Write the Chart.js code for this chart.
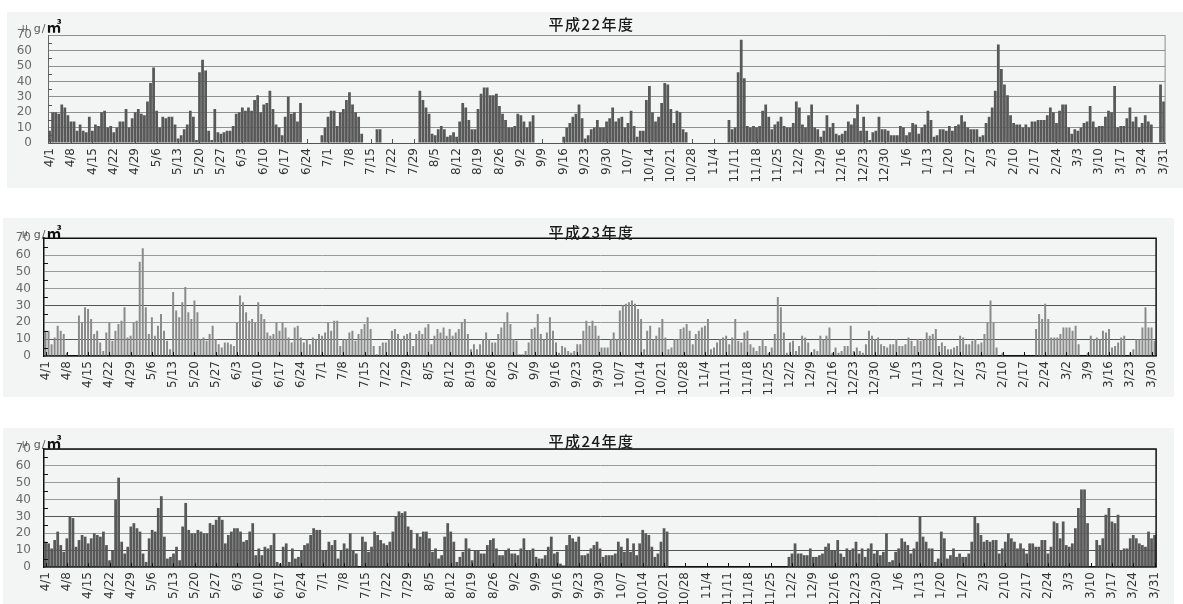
<!DOCTYPE html>
<html>
<head>
<meta charset="utf-8">
<script src="https://cdn.jsdelivr.net/npm/chart.js@4.4.1/dist/chart.umd.min.js"></script>
<style>
  body { margin: 0; background: #fff; width: 1183px; height: 604px; overflow: hidden; position: relative; font-family: "Noto Sans CJK JP", sans-serif; }
  .box { position: absolute; background: #f3f4f4; }
  .box canvas { position: absolute; left: 0; top: 0; }
  .title { position: absolute; text-align: center; font-size: 15px; font-weight: 500; letter-spacing: 1.5px; color: #1a1a1a; line-height: 18px; }
  .unit { position: absolute; font-family: "DejaVu Sans", sans-serif; font-size: 11px; color: #555; line-height: 1; letter-spacing: 1px; white-space: nowrap; }
  .unit i { font-style: normal; font-size: 9px; letter-spacing: 6px; position: relative; top: -2px; }
  .unit b { font-family: "Noto Sans CJK JP", sans-serif; font-size: 15px; font-weight: bold; color: #111; letter-spacing: 0; }
</style>
</head>
<body>
<div class="box" style="left:7px;top:12px;width:1176px;height:176px">
  <canvas id="c1" width="1176" height="176"></canvas>
  <div class="title" style="top:3px;left:-7px;width:1183px">平成22年度</div>
  <div class="unit" style="left:15px;top:6px"><i>μ</i>g/<b>㎥</b></div>
</div>
<div class="box" style="left:3px;top:218px;width:1171px;height:179px">
  <canvas id="c2" width="1171" height="179"></canvas>
  <div class="title" style="top:5px;left:-3px;width:1183px">平成23年度</div>
  <div class="unit" style="left:19px;top:6px"><i>μ</i>g/<b>㎥</b></div>
</div>
<div class="box" style="left:3px;top:428px;width:1171px;height:176px">
  <canvas id="c3" width="1171" height="176"></canvas>
  <div class="title" style="top:4px;left:-3px;width:1183px">平成24年度</div>
  <div class="unit" style="left:19px;top:6px"><i>μ</i>g/<b>㎥</b></div>
</div>
<script>
// 日平均値 (μg/㎥) 4/1〜3/31
const h22Values = [
  8,20,20,19,25,23,18, 14,14,8,12,8,7,17, 8,12,11,20,21,10,11, 7,10,14,14,22,10,16,
  20,22,19,18,27,39,49,
  21,10,17,16,17,17,12,3,5,9,12,21,17,2,46,54,
  47,8,2,22,7,6,7,8,8,11,19,20,23,21,23,21,28,31,20,25,26,34,
  22,12,10,5,17,30,19,20,14,26,0,0,
  0,0,0,0,
  5,10,17,21,21,11,20,22,28,33,25,20,17,6,0,0,
  0,0,9,9,0,0,0,
  0,0,0,0,0,0,0,0,0,
  34,28,23,19,6,5,9,11,9,4,5,7,4,14,26,23,15,9,9,22,32,36,36,31,31,32,24,19,15,10,10,11,19,18,14,10,14,18,
  0,0,0,0,0,0,0,0,0,
  4,10,13,17,19,25,16,3,5,9,10,15,10,10,14,16,23,14,16,17,10,13,21,11,4,8,8,28,37,20,14,17,26,39,38,22,13,21,20,9,7,
  0,0,0,0,0,0,0,0,0,0,0,0,0,
  15,9,10,46,67,42,11,10,11,10,11,21,25,17,9,12,
  14,17,11,10,10,13,
  27,23,12,10,18,25,10,9,4,8,18,10,13,6,5,6,8,14,12,16,25,8,17,8,2,7,8,17,9,9,8,
  5,5,5,11,10,5,7,13,12,6,10,12,21,15,4,5,9,9,8,11,8,11,12,18,14,10,9,9,9,4,5,
  13,17,23,34,64,48,38,31,18,13,12,12,10,12,10,14,14,15,15,15,18,23,20,13,21,25,25,10,
  6,9,8,10,13,14,24,14,10,11,11,17,21,20,37,10,11,11,16,23,14,17,10,13,18,14,12,0,0,38,27
];
const h23Values = [
  15,15,7,11,18,15,13,2,0,0,0,
  24,20,29,28,22,13,15,8,3,14, 20,9,15,19,21,29,11,12,20,21,
  56,64,29,13,23,12,18,25,15,9, 4,38,27,23,32,41,26,22,33,26,
  10,11,9,13,18,10,7,5,8,8, 7,6,20,36,32,26,21,22,20,32,
  25,22,14,12,13,20,15,20,17,11, 8,17,18,11,8,10,7,11,10,13,
  12,14,20,15,21,21,6,10,10,14, 15,9,13,16,19,23,16,6,1,6, 8,8,
  10,15,16,13,10,12,13,14,6,13, 15,13,17,19,7,12,16,14,17,12,
  16,12,14,16,20,22,13,4,7,4, 7,10,14,10,8,8,13,17,20,26,
  19,10,9,1,1,3,8,16,17,25, 13,10,14,23,15,8,2,6,5,3,
  2,3,7,7,15,21,18,21,18,12, 5,5,5,10,14,10,27,30,31,32,
  33,31,28,22,4,15,18,10,12,17, 22,11,4,5,10,10,16,17,19,15,
  7,13,15,17,18,22,4,5,8,10, 11,12,7,11,22,9,8,14,15,7,
  5,3,6,10,6,2,5,13,35,29,
  14,2,8,9,3,6,12,11,8,2, 4,3,12,10,12,17,2,5,2,3,
  6,6,18,3,5,3,2,7,15,12, 10,11,7,6,5,7,7,10,6,6,
  7,11,9,6,10,9,10,14,12,13, 16,6,8,6,4,4,5,6,12,11,
  7,7,9,10,7,8,13,20,33,20, 5,0,2,0,0,0,0,0,0,0,
  0,0,0,16,25,22,31,22,11,11, 11,13,17,17,17,15,18,7,0,0,
  2,12,10,11,10,15,14,16,5,6, 8,11,12,0,2,4,10,10,17,29,
  17,17,9
];
const h24Values = [
  15,14,11,16,21,13,9,17,30,29, 12,16,19,18,14,17,20,19,18,21,
  13,4,10,40,53,15,8,12,24,26, 23,21,8,3,17,22,21,35,42,18,
  5,6,8,12,4,24,38,22,20,20, 22,21,20,20,26,25,28,30,28,14,
  19,21,23,23,21,15,16,21,26,7, 11,7,12,11,13,20,3,2,12,14,
  3,11,5,6,10,13,14,19,23,22, 22,10,10,15,13,16,5,10,14,11,
  20,10,8,0,18,15,9,12,21,19, 16,14,13,15,21,30,
  33,32,33,24,22,11,20,18,21,21, 17,9,11,5,7,18,26,21,15,3,
  6,9,17,11,4,10,10,8,8,13, 16,17,11,7,7,10,11,8,8,7,
  11,17,10,10,11,6,5,5,7,12, 18,8,9,2,1,13,19,17,15,18,
  7,7,8,11,13,15,11,6,7,7, 7,8,15,12,9,17,9,14,7,14,
  22,20,19,12,6,8,15,23,21,
  0,0,0,0,0,0,0,0,0,0, 0,0,0,0,0,0,0,0,0,0, 0,0,0,0,0,0,0,0,0,0, 0,0,0,0,0,0,0,0,0,
  6,8,14,8,8,7,7,11,6,6, 7,8,12,14,10,10,16,8,6,11,
  10,11,15,8,11,6,11,14,8,10, 7,9,20,3,4,9,11,17,15,13,
  8,11,15,30,18,15,11,11,3,5, 21,17,5,7,11,6,8,6,6,8,
  15,30,26,19,15,16,15,16,16,8, 11,15,20,17,15,11,14,11,8,14,
  14,12,12,16,16,8,12,27,26,17, 27,13,12,14,23,35,46,46,26,0,
  0,16,13,17,31,35,27,26,31,10, 11,11,17,19,17,14,13,12,21,17,
  19
];
const yTicks = [0, 10, 20, 30, 40, 50, 60, 70];
const labelEvery = 7;

// 年度の日付ラベル (4/1 から)
function fiscalDays(startYear) {
  const out = [];
  const d = new Date(startYear, 3, 1);
  while (d < new Date(startYear + 1, 3, 1)) {
    out.push((d.getMonth() + 1) + '/' + d.getDate());
    d.setDate(d.getDate() + 1);
  }
  return out;
}
const h22Days = fiscalDays(2010);
const h23Days = fiscalDays(2011);
const h24Days = fiscalDays(2012);

const innerTicks = {
  id: 'innerTicks',
  afterDatasetsDraw(chart, args, o) {
    const { ctx, chartArea: a, scales: { x, y } } = chart;
    ctx.save();
    ctx.strokeStyle = o.tickColor;
    ctx.lineWidth = 1;
    ctx.beginPath();
    chart.data.labels.forEach((l, i) => {
      if (i % labelEvery) return;
      const px = Math.round(x.getPixelForValue(i)) + 0.5;
      ctx.moveTo(px, a.bottom);
      ctx.lineTo(px, a.bottom - 4);
    });
    for (let v = 5; v < 70; v += 10) {
      const py = Math.round(y.getPixelForValue(v)) + 0.5;
      ctx.moveTo(a.left, py);
      ctx.lineTo(a.left + 4, py);
    }
    ctx.stroke();
    ctx.strokeStyle = o.frameColor;
    ctx.lineWidth = o.frameWidth;
    ctx.beginPath();
    ctx.moveTo(a.right, a.bottom);
    ctx.lineTo(a.right, a.top);
    if (o.frameTop) ctx.lineTo(a.left, a.top);
    ctx.stroke();
    ctx.restore();
  }
};

function drawPanel(id, days, values, cfg) {
  new Chart(document.getElementById(id), {
    type: 'bar',
    data: {
      labels: days,
      datasets: [{
        data: values,
        backgroundColor: cfg.bar,
        borderWidth: 0,
        barPercentage: cfg.barPct,
        categoryPercentage: 1
      }]
    },
    options: {
      responsive: false,
      animation: false,
      events: [],
      layout: { padding: { left: 0, right: cfg.padRight, top: cfg.padTop, bottom: 0 } },
      plugins: {
        legend: { display: false },
        tooltip: { enabled: false },
        innerTicks: { tickColor: cfg.axis, frameColor: cfg.frame, frameWidth: cfg.frameWidth, frameTop: cfg.frameTop }
      },
      scales: {
        x: {
          grid: { display: false, drawTicks: false },
          border: { color: cfg.axis, width: cfg.axisWidth },
          ticks: {
            autoSkip: false,
            maxRotation: 90,
            minRotation: 90,
            padding: 5,
            color: '#333',
            font: { family: 'DejaVu Sans', size: 12 },
            callback: (v, i) => (i % labelEvery === 0 ? days[i] : '')
          },
          afterFit: s => { s.height = cfg.xH; }
        },
        y: {
          min: 0,
          max: 70,
          afterBuildTicks: s => { s.ticks = yTicks.map(v => ({ value: v })); },
          grid: { drawTicks: false, color: cfg.grid, lineWidth: 1 },
          border: { color: cfg.yAxis, width: cfg.axisWidth },
          ticks: {
            autoSkip: false,
            padding: cfg.yPad,
            color: '#6a6a6a',
            font: { family: 'DejaVu Sans', size: 12 }
          },
          afterFit: s => { s.width = cfg.yW; }
        }
      }
    },
    plugins: [innerTicks]
  });
}

drawPanel('c1', h22Days, h22Values, {
  bar: '#585858', barPct: 0.9, padRight: 13, padTop: 21, xH: 45, yW: 41, yPad: 16,
  grid: '#8f8f8f', axis: '#555', yAxis: '#666', axisWidth: 1,
  frame: '#8f8f8f', frameWidth: 1, frameTop: false
});
drawPanel('c2', h23Days, h23Values, {
  bar: '#8a8a8a', barPct: 0.65, padRight: 8, padTop: 20, xH: 41, yW: 41, yPad: 13,
  grid: c => (c.tick && (c.tick.value === 10 || c.tick.value === 30) ? '#555' : '#9a9a9a'),
  axis: '#111', yAxis: '#111', axisWidth: 1.5,
  frame: '#111', frameWidth: 1.5, frameTop: true
});
drawPanel('c3', h24Days, h24Values, {
  bar: '#585858', barPct: 0.9, padRight: 8, padTop: 21, xH: 37, yW: 41, yPad: 13,
  grid: c => (c.tick && (c.tick.value === 10 || c.tick.value === 30) ? '#555' : '#9a9a9a'),
  axis: '#111', yAxis: '#111', axisWidth: 1.5,
  frame: '#111', frameWidth: 1.5, frameTop: true
});
</script>
</body>
</html>
